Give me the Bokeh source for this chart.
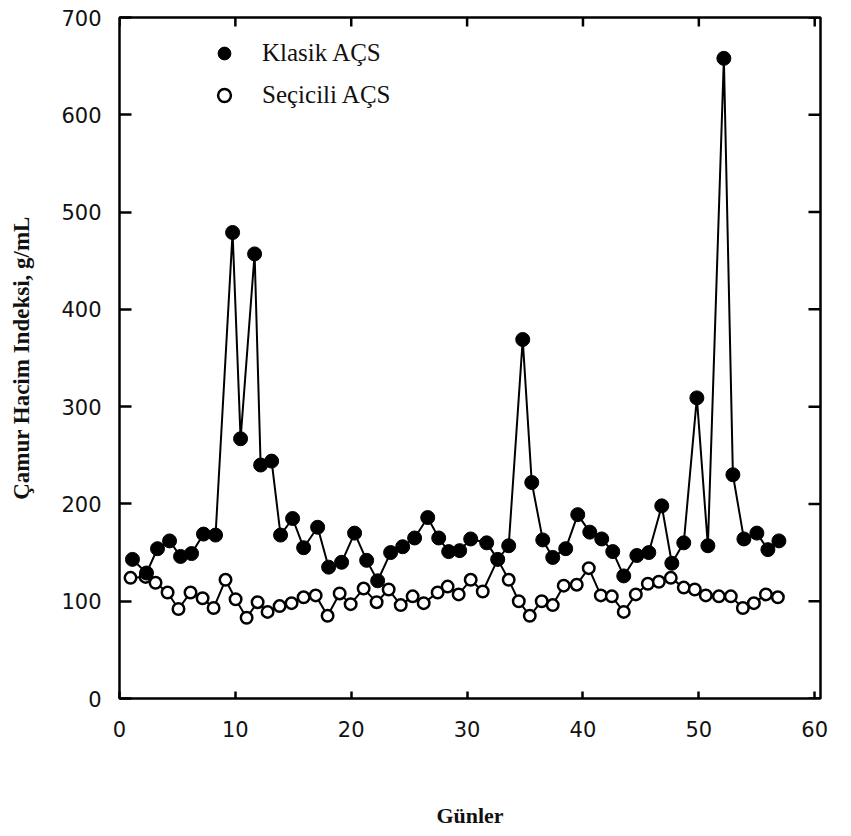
import math
from bokeh.plotting import figure
from bokeh.models import FixedTicker, Legend, LegendItem, Range1d
from bokeh.embed import file_html
from bokeh.resources import INLINE

# ---- data ----
klasik_days = [1.12, 2.33, 3.28, 4.32, 5.27, 6.22, 7.25, 8.29, 9.76, 10.45,
               11.66, 12.18, 13.13, 13.90, 14.94, 15.89, 17.10, 18.05, 19.17, 20.29,
               21.33, 22.28, 23.40, 24.44, 25.47, 26.60, 27.55, 28.41, 29.36, 30.31,
               31.69, 32.64, 33.59, 34.80, 35.58, 36.53, 37.39, 38.51, 39.55, 40.59,
               41.62, 42.57, 43.52, 44.65, 45.68, 46.80, 47.67, 48.70, 49.83, 50.78,
               52.16, 52.94, 53.89, 55.01, 55.96, 56.91]
klasik_svi = [143, 129, 154, 162, 146, 149, 169, 168, 479, 267,
              457, 240, 244, 168, 185, 155, 176, 135, 140, 170,
              142, 121, 150, 156, 165, 186, 165, 151, 152, 164,
              160, 143, 157, 369, 222, 163, 145, 154, 189, 171,
              164, 151, 126, 147, 150, 198, 139, 160, 309, 157,
              658, 230, 164, 170, 153, 162]

secicili_days = [0.95, 2.25, 3.11, 4.15, 5.09, 6.13, 7.17, 8.12, 9.15, 10.02,
                 10.97, 11.92, 12.78, 13.82, 14.85, 15.89, 16.93, 17.96, 19.00, 19.95,
                 21.07, 22.19, 23.23, 24.27, 25.30, 26.25, 27.46, 28.32, 29.27, 30.31,
                 31.35, 32.64, 33.59, 34.46, 35.41, 36.44, 37.39, 38.34, 39.46, 40.50,
                 41.54, 42.49, 43.52, 44.56, 45.60, 46.55, 47.58, 48.70, 49.65, 50.60,
                 51.73, 52.76, 53.80, 54.75, 55.79, 56.82]
secicili_svi = [124, 125, 119, 109, 92, 109, 103, 93, 122, 102,
                83, 99, 89, 95, 98, 104, 106, 85, 108, 97,
                113, 99, 112, 96, 105, 98, 109, 115, 107, 122,
                110, 143, 122, 100, 85, 100, 96, 116, 117, 134,
                106, 105, 89, 107, 118, 120, 124, 114, 112, 106,
                105, 105, 93, 98, 107, 104]

x_ticks = [0, 10, 20, 30, 40, 50, 60]
y_ticks = [0, 100, 200, 300, 400, 500, 600, 700]
x_label = "Günler"
y_label = "Çamur Hacim Indeksi, g/mL"
series_names = ["Klasik AÇS", "Seçicili AÇS"]

X_MAX = 60.5
Y_MAX = 700

TICK_FONT = "DejaVu Sans"
SERIF = "Liberation Serif"

p = figure(width=836, height=830, output_backend="svg", toolbar_location=None,
           x_range=Range1d(0, X_MAX), y_range=Range1d(0, Y_MAX),
           min_border_left=119, min_border_right=16, min_border_top=17, min_border_bottom=131)
p.background_fill_color = "white"
p.border_fill_color = "white"
p.grid.visible = False
p.outline_line_color = "black"
p.outline_line_width = 2.5

def style_axis(ax, ticks, tick_len):
    ax.ticker = FixedTicker(ticks=ticks)
    ax.major_tick_in = tick_len
    ax.major_tick_out = 0
    ax.minor_tick_in = 0
    ax.minor_tick_out = 0
    ax.major_tick_line_width = 2.5
    ax.major_tick_line_color = "black"
    ax.axis_line_color = None
    ax.major_label_text_font = TICK_FONT
    ax.major_label_text_font_size = "21px"
    ax.major_label_text_color = "#111111"

xa = p.xaxis[0]
ya = p.yaxis[0]
style_axis(xa, x_ticks, 7)
style_axis(ya, y_ticks, 12)
xa.major_label_standoff = 22
ya.major_label_standoff = 18

xa.axis_label = x_label
xa.axis_label_text_font = SERIF
xa.axis_label_text_font_style = "bold"
xa.axis_label_text_font_size = "22px"
xa.axis_label_text_color = "#111111"
xa.axis_label_standoff = 63

ya.axis_label = y_label
ya.axis_label_text_font = SERIF
ya.axis_label_text_font_style = "bold"
ya.axis_label_text_font_size = "23px"
ya.axis_label_text_color = "#111111"
ya.axis_label_standoff = 24

# inward ticks on the top and right frame edges
p.ray(x=x_ticks, y=[Y_MAX] * len(x_ticks), length=9, length_units="screen",
      angle=-math.pi / 2, line_color="black", line_width=2.5)
p.ray(x=[X_MAX] * len(y_ticks), y=y_ticks, length=12, length_units="screen",
      angle=math.pi, line_color="black", line_width=2.5)

# Seçicili (open circles) first, Klasik on top
p.line(secicili_days, secicili_svi, line_color="black", line_width=2)
r_sec = p.scatter(secicili_days, secicili_svi, marker="circle", size=11.5,
                  fill_color="white", line_color="black", line_width=2.5)
p.line(klasik_days, klasik_svi, line_color="black", line_width=2)
r_kl = p.scatter(klasik_days, klasik_svi, marker="circle", size=14,
                 fill_color="black", line_color="black")

legend = Legend(items=[LegendItem(label=series_names[0], renderers=[r_kl]),
                       LegendItem(label=series_names[1], renderers=[r_sec])],
                location=(89, 587))
legend.border_line_color = None
legend.background_fill_alpha = 0
legend.padding = 0
legend.margin = 0
legend.glyph_width = 32
legend.glyph_height = 32
legend.spacing = 10
legend.label_standoff = 22
legend.label_text_font = SERIF
legend.label_text_font_size = "25px"
legend.label_text_color = "#111111"
p.add_layout(legend, "center")

open("out.html", "w").write(file_html(p, INLINE))
